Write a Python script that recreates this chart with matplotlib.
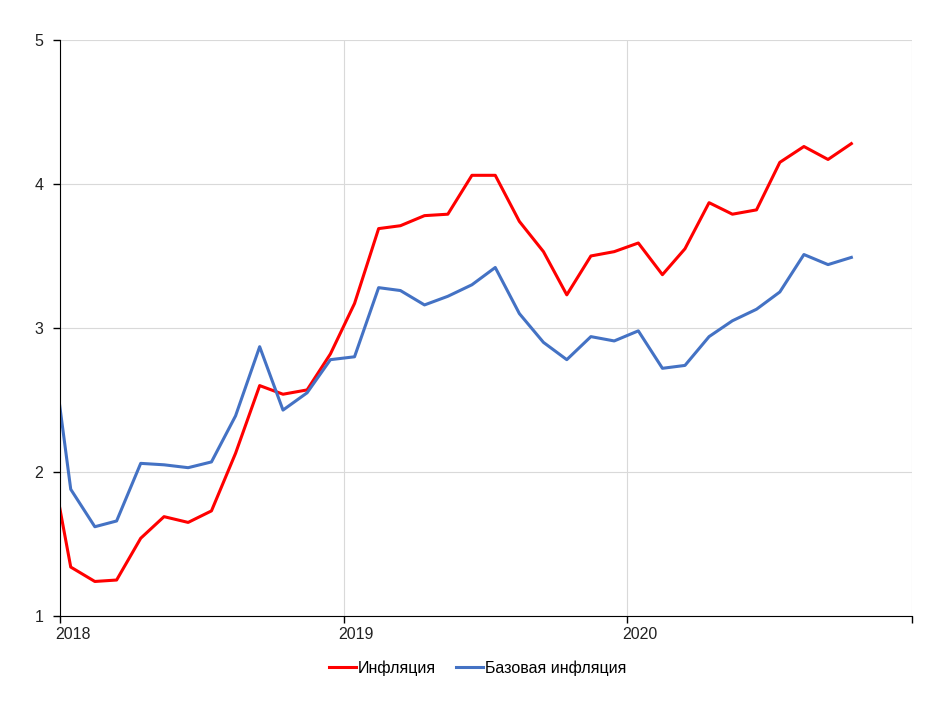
import pandas as pd
import numpy as np
import matplotlib.pyplot as plt
import matplotlib.transforms as mtransforms

# ---- data (monthly, mid-month points) ----
months = pd.date_range("2017-12-01", "2020-10-01", freq="MS") + pd.Timedelta(days=14)

inflation = [
    2.24,
    1.34, 1.24, 1.25, 1.54, 1.69, 1.65, 1.73, 2.13, 2.60, 2.54, 2.57, 2.82,
    3.17, 3.69, 3.71, 3.78, 3.79, 4.06, 4.06, 3.74, 3.53, 3.23, 3.50, 3.53,
    3.59, 3.37, 3.55, 3.87, 3.79, 3.82, 4.15, 4.26, 4.17, 4.28,
]
core_inflation = [
    3.15,
    1.88, 1.62, 1.66, 2.06, 2.05, 2.03, 2.07, 2.39, 2.87, 2.43, 2.55, 2.78,
    2.80, 3.28, 3.26, 3.16, 3.22, 3.30, 3.42, 3.10, 2.90, 2.78, 2.94, 2.91,
    2.98, 2.72, 2.74, 2.94, 3.05, 3.13, 3.25, 3.51, 3.44, 3.49,
]

year_ticks = pd.to_datetime(["2018-01-01", "2019-01-01", "2020-01-01", "2021-01-01"])
year_labels = ["2018", "2019", "2020", ""]

labels = ["Инфляция", "Базовая инфляция"]
colors = ["#FF0000", "#4472C4"]

plt.rcParams["font.family"] = ["Liberation Sans", "DejaVu Sans"]

fig = plt.figure(figsize=(9.5, 7.13), dpi=100)
ax = fig.add_axes([0.063, 0.136, 0.897, 0.808])

ax.plot(months, inflation, color=colors[0], linewidth=2.2, label=labels[0])
ax.plot(months, core_inflation, color=colors[1], linewidth=2.2, label=labels[1])

ax.set_xlim(year_ticks[0], year_ticks[-1])
ax.set_ylim(1, 5)
ax.set_yticks([1, 2, 3, 4, 5])
ax.set_xticks(year_ticks)
ax.set_xticklabels(year_labels, ha="left")

ax.grid(True, color="#D9D9D9", linewidth=0.8)
ax.set_axisbelow(True)

ax.spines["top"].set_visible(False)
ax.spines["right"].set_visible(False)
ax.spines["left"].set_color("black")
ax.spines["bottom"].set_color("black")
ax.tick_params(axis="both", labelsize=11.5, length=5, width=1.0, colors="black",
               labelcolor="#222222")
ax.tick_params(axis="x", pad=3)
ax.tick_params(axis="y", pad=7)

leg = ax.legend(loc="upper center", bbox_to_anchor=(0.49, -0.052), ncol=2,
                frameon=False, fontsize=11.5, handlelength=1.7,
                handletextpad=0.1, columnspacing=1.3)

# year labels start just left of the tick
fig.canvas.draw()
shift = mtransforms.ScaledTranslation(-0.05, 0, fig.dpi_scale_trans)
for tick in ax.xaxis.get_major_ticks():
    tick.label1.set_transform(tick.label1.get_transform() + shift)

fig.savefig("out.png", dpi=100)
